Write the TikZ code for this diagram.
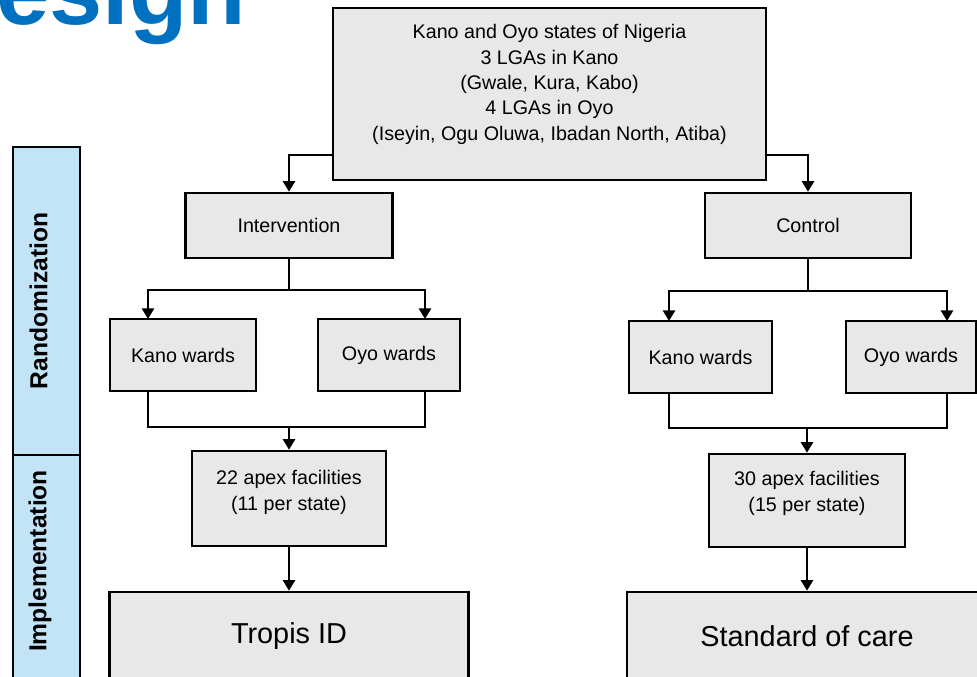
\documentclass[tikz,border=0pt]{standalone}
\usepackage{fontspec}
\setmainfont{Liberation Sans}
\usepackage{tikz}
\usetikzlibrary{arrows.meta,calc}
\definecolor{boxgray}{HTML}{E8E8E8}
\definecolor{sideblue}{HTML}{C3E3F6}
\definecolor{titleblue}{HTML}{0070C0}

\begin{document}
\begin{tikzpicture}[x=0.025cm, y=-0.025cm, every node/.style={font=\fontsize{14}{18}\selectfont, align=center},
	box/.style 2 args={draw, line width=1.8pt, fill=boxgray, minimum width=#1*0.025cm, minimum height=#2*0.025cm},
	side/.style={draw, line width=1.8pt, fill=sideblue},
	sidetxt/.style={rotate=90, font=\fontsize{17.5}{17.5}\selectfont\bfseries},
	big/.style={font=\fontsize{20.5}{24}\selectfont},
	ln/.style={line width=1.8pt},
	arr/.style={ln, -{Triangle[length=7.5pt,width=8.5pt]}}]
			
			\useasboundingbox (0,0) rectangle (977,676);
			\clip (0,0) rectangle (977,676);
			
			% cut-off title
			\node[anchor=base west, inner sep=0pt, text=titleblue, font=\fontsize{68}{68}\selectfont\bfseries] (title) at (-4,25) {esign};
			
			% side bars
			\draw[side] (13,147) rectangle (80,455);
			\draw[side] (13,455) rectangle (80,700);
			\node[sidetxt] (randTxt) at (38.5,301) {Randomization};
			\node[sidetxt] (implTxt) at (40,561) {Implementation};
			
			% boxes
			\node[box={433}{172}] (top) at (549.5,94) {};
			\node[anchor=north] (topTxt) at ($(top.north)+(0,13)$) {Kano and Oyo states of Nigeria\\3 LGAs in Kano\\(Gwale, Kura, Kabo)\\4 LGAs in Oyo\\(Iseyin, Ogu Oluwa, Ibadan North, Atiba)};
			\node[box={207}{65}] (int) at (289,225.5) {Intervention};
			\node[box={206}{65}] (ctl) at (808,225.5) {Control};
			\node[box={146}{72}] (kanoL) at (183,355) {Kano wards};
			\node[box={142}{72}] (oyoL) at (389,355) {Oyo wards};
			\node[box={143}{72}] (kanoR) at (700.5,357) {Kano wards};
			\node[box={130}{72}] (oyoR) at (911,357) {Oyo wards};
			\node[box={194}{95}] (apexL) at (289,498.5) {};
			\node[anchor=north] (apexLTxt) at ($(apexL.north)+(0,16)$) {22 apex facilities\\(11 per state)};
			\node[box={196}{93}] (apexR) at (807,500.5) {};
			\node[anchor=north] (apexRTxt) at ($(apexR.north)+(0,14)$) {30 apex facilities\\(15 per state)};
			\node[box={359}{88}, big] (tropis) at (289,636) {Tropis ID};
			\node[box={360}{88}, big] (soc) at (807,636) {Standard of care};
			
			% corners of the connectors
			\coordinate (tl) at (333,155);
			\coordinate (tr) at (766,155);
			\coordinate (isplit) at (289,290);
			\coordinate (csplit) at (808,291);
			\coordinate (kLin) at (148,319);
			\coordinate (oLin) at (425,319);
			\coordinate (kRin) at (669,321);
			\coordinate (oRin) at (947,321);
			\coordinate (lmerge) at (289,427);
			\coordinate (rmerge) at (807,428);
			
			\draw[arr] (tl) -| (int);
			\draw[arr] (tr) -| (ctl);
			\draw[ln] (int) -- (isplit);
			\draw[ln] (ctl) -- (csplit);
			\foreach \t in {kLin,oLin}
			{
				\draw[arr] (isplit) -| (\t);
			}
			\foreach \t in {kRin,oRin}
			{
				\draw[arr] (csplit) -| (\t);
			}
			\draw[ln] (kanoL.south -| kLin) |- (lmerge) -| (oyoL.south -| oLin);
			\draw[ln] (kanoR.south -| kRin) |- (rmerge) -| (oyoR.south -| oRin);
			\draw[arr] (lmerge) -- (apexL);
			\draw[arr] (rmerge) -- (apexR);
			\draw[arr] (apexL) -- (tropis);
			\draw[arr] (apexR) -- (soc);
			\end{tikzpicture}
\end{document}
